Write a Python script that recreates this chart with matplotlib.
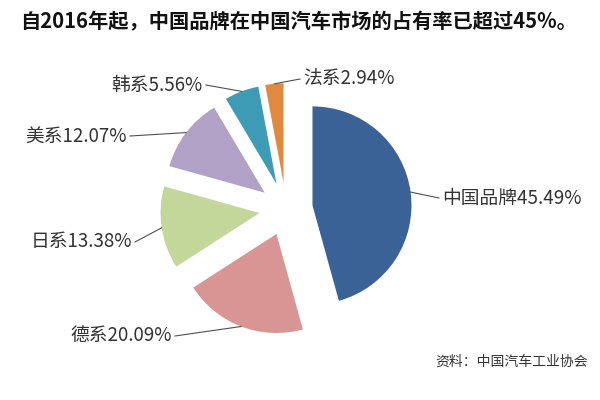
import numpy as np
import matplotlib
matplotlib.use("Agg")
import matplotlib.pyplot as plt

plt.rcParams['font.family'] = ['Noto Sans CJK SC', 'DejaVu Sans']

categories = ["中国品牌", "德系", "日系", "美系", "韩系", "法系"]
shares = [45.49, 20.09, 13.38, 12.07, 5.56, 2.94]
colors = ["#3A6296", "#D99594", "#C4D79B", "#B2A1C7", "#3E9BB5", "#E08A3F"]
title = "自2016年起，中国品牌在中国汽车市场的占有率已超过45%。"
source = "资料：中国汽车工业协会"

W, H = 600, 400
CX, CY, R = 286, 209, 99  # pie centre and radius in pixels
EXPLODE = 0.27

fig = plt.figure(figsize=(6, 4), dpi=100)
ax = fig.add_axes([0, 0, 1, 1])

def px(x, y):
    return ((x - CX) / R, (CY - y) / R)

wedges, _ = ax.pie(shares, colors=colors, startangle=90, counterclock=False,
                   explode=[EXPLODE] * len(shares), radius=1, center=(0, 0),
                   wedgeprops=dict(linewidth=0))
ax.set_xlim(-CX / R, (W - CX) / R)
ax.set_ylim(-(H - CY) / R, CY / R)
ax.set_aspect('equal')
ax.axis('off')

# label anchors in pixels (text anchor, alignment)
label_pos = [(442, 198, 'left'), (172, 336, 'right'), (132, 242, 'right'),
             (127, 136, 'right'), (203, 85, 'right'), (303, 79, 'left')]

for w, cat, val, (lx, ly, ha) in zip(wedges, categories, shares, label_pos):
    mid = np.deg2rad((w.theta1 + w.theta2) / 2)
    ox, oy = w.center
    sx, sy = ox + np.cos(mid), oy + np.sin(mid)
    tx, ty = px(lx, ly)
    gap = 3 / R
    ex = tx - gap if ha == 'left' else tx + gap
    ax.plot([sx, ex], [sy, ty], color="#505050", lw=0.8)
    ax.text(tx, ty, f"{cat}{val:.2f}%", ha=ha, va='center', fontsize=13.5,
            color="#333333")

fig.text(20 / W, 1 - 22 / H, title, ha='left', va='center', fontsize=14.6,
         fontweight='bold', color='#111111')
fig.text(588 / W, 1 - 362 / H, source, ha='right', va='center', fontsize=10,
         color='#333333')

fig.savefig("out.png", dpi=100)
